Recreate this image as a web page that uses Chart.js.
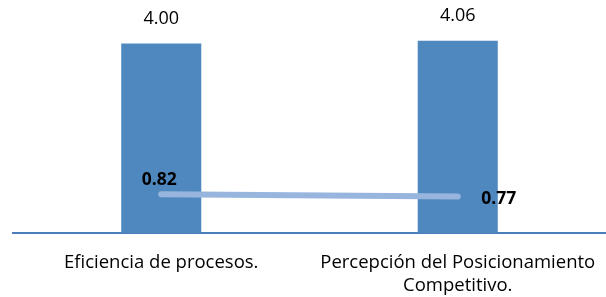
<!DOCTYPE html>
<html>
<head>
<meta charset="utf-8">
<script src="https://cdn.jsdelivr.net/npm/chart.js@4/dist/chart.umd.min.js"></script>
<style>
html,body{margin:0;padding:0;background:#fff;}
#wrap{width:606px;height:297px;position:relative;}
</style>
</head>
<body>
<div id="wrap"><canvas id="c" width="606" height="297"></canvas></div>
<script>
const categories = [["Eficiencia de procesos."], ["Percepción del Posicionamiento", "Competitivo."]];
const barValues = [4.00, 4.06];
const lineValues = [0.82, 0.77];
const yTicksMax = 4.9;

const FONT = "'Open Sans', sans-serif";

const labelPlugin = {
  id: 'valLabels',
  afterDatasetsDraw(chart) {
    const ctx = chart.ctx;
    ctx.save();
    ctx.fillStyle = '#000';
    ctx.textAlign = 'center';
    ctx.textBaseline = 'middle';
    // bar labels
    const bm = chart.getDatasetMeta(0);
    ctx.font = "18px " + FONT;
    bm.data.forEach((el, i) => {
      ctx.fillText(barValues[i].toFixed(2), el.x, el.y - 25);
    });
    // line labels
    const lm = chart.getDatasetMeta(1);
    ctx.font = "bold 17.5px " + FONT;
    const offs = [[-2, -14], [41, 2]];
    lm.data.forEach((el, i) => {
      ctx.fillText(lineValues[i].toFixed(2), el.x + offs[i][0], el.y + offs[i][1]);
    });
    // category labels
    const xs = chart.scales.x;
    ctx.font = "18.5px " + FONT;
    categories.forEach((lines, i) => {
      const x = xs.getPixelForValue(i);
      lines.forEach((t, j) => {
        ctx.fillText(t, x, chart.chartArea.bottom + 30 + j * 23);
      });
    });
    ctx.restore();
  }
};

new Chart(document.getElementById('c'), {
  data: {
    labels: categories,
    datasets: [
      {
        type: 'bar',
        data: barValues,
        backgroundColor: '#4F88BF',
        categoryPercentage: 1,
        barPercentage: 0.27,
        order: 1
      },
      {
        type: 'line',
        data: lineValues,
        borderColor: '#98B6DD',
        borderWidth: 6,
        borderCapStyle: 'round',
        pointRadius: 0,
        tension: 0,
        order: 0
      }
    ]
  },
  options: {
    responsive: false,
    animation: false,
    events: [],
    layout: { padding: { left: 13, right: 0, top: 1, bottom: 64 } },
    plugins: { legend: { display: false }, tooltip: { enabled: false } },
    scales: {
      x: {
        grid: { display: false, drawTicks: false },
        border: { color: '#4A7EBB', width: 2 },
        ticks: { display: false }
      },
      y: { display: false, min: 0, max: yTicksMax }
    }
  },
  plugins: [labelPlugin]
});
</script>
</body>
</html>
